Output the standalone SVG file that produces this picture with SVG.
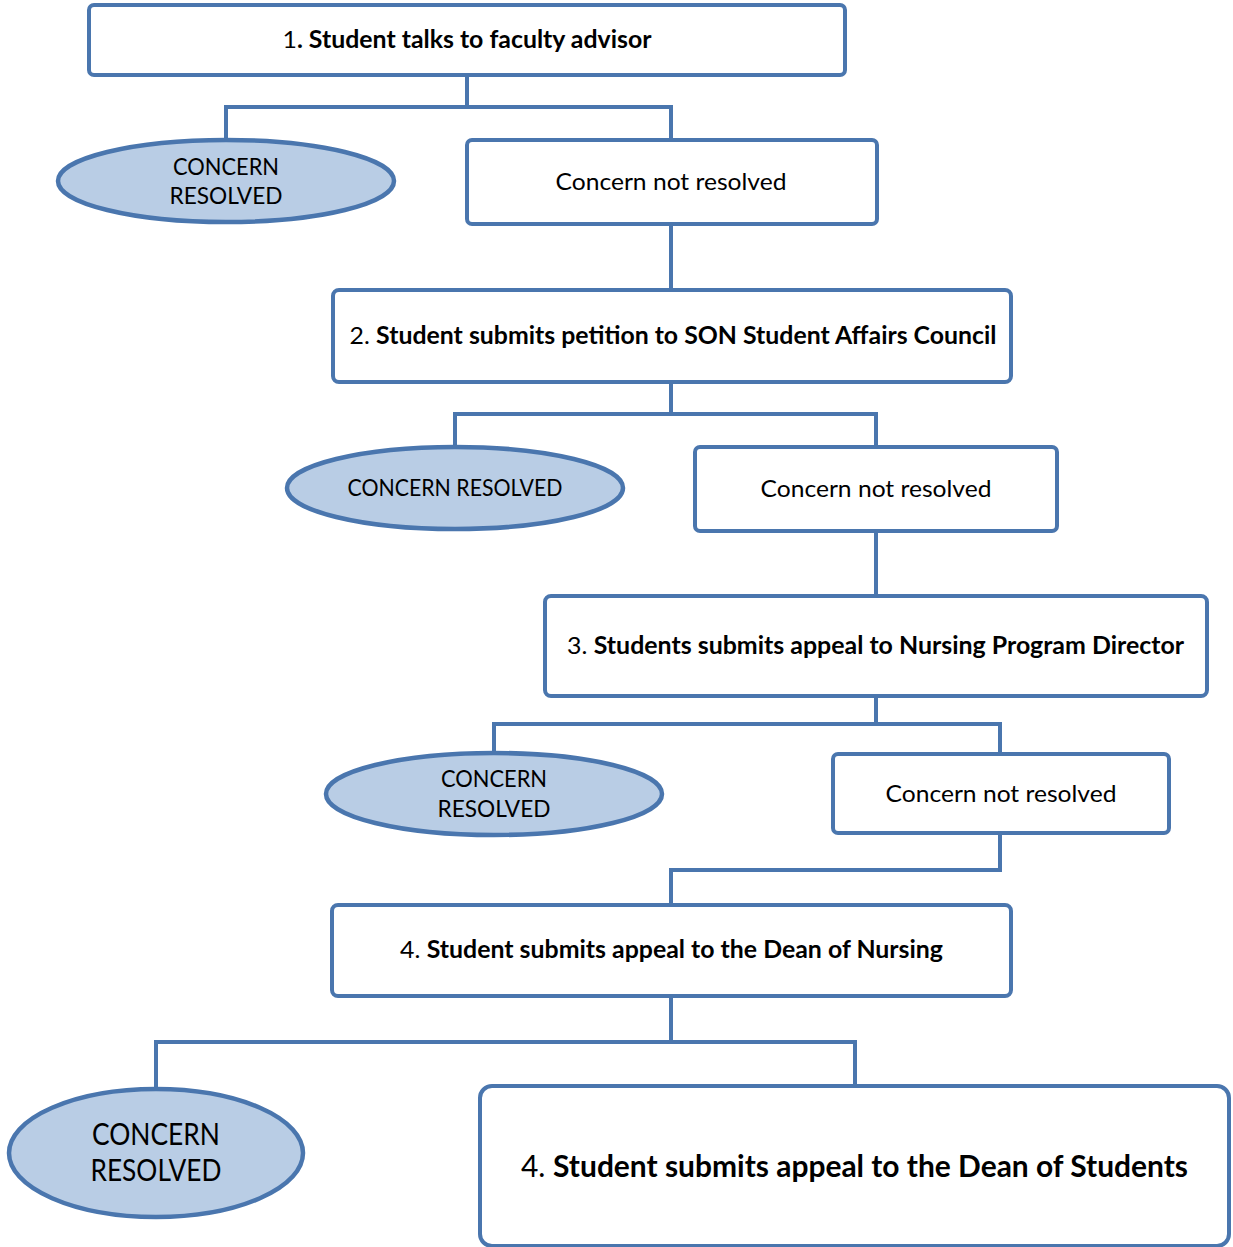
<svg xmlns="http://www.w3.org/2000/svg" width="1233" height="1247" viewBox="0 0 1233 1247">
<style>
.box{fill:#ffffff;stroke:#4a76ae;stroke-width:4}
.ell{fill:#b9cde5;stroke:#4a76ae;stroke-width:4.5}
.con{fill:none;stroke:#4a76ae;stroke-width:4;stroke-linejoin:miter}
text{font-family:Lato,"Open Sans","Liberation Sans",sans-serif;fill:#000;text-anchor:middle}
.t{font-size:24px}
.big{font-size:30px}
.b{font-weight:bold}
</style>
<rect width="1233" height="1247" fill="#ffffff"/>
<g id="connectors">
<path class="con" d="M467 75V107M226 140V107H671V140"/>
<path class="con" d="M671 224V290"/>
<path class="con" d="M671 382V414M455 447V414H876V447"/>
<path class="con" d="M876 531V596"/>
<path class="con" d="M876 696V724M494 752V724H1000V754"/>
<path class="con" d="M1000 833V870H671V905"/>
<path class="con" d="M671 996V1042M156 1088V1042H855V1086"/>
</g>
<g id="n1">
<rect class="box" x="89" y="5" width="756" height="70" rx="5"/>
<text class="t" x="467" y="48" textLength="369" lengthAdjust="spacingAndGlyphs">1<tspan class="b">. Student talks to faculty advisor</tspan></text>
</g>
<g id="r1">
<ellipse class="ell" cx="226" cy="181" rx="168" ry="41"/>
<text class="t" x="226" y="175" textLength="106" lengthAdjust="spacingAndGlyphs">CONCERN</text>
<text class="t" x="226" y="204" textLength="113" lengthAdjust="spacingAndGlyphs">RESOLVED</text>
</g>
<g id="nr1">
<rect class="box" x="467" y="140" width="410" height="84" rx="5"/>
<text class="t" x="671" y="190" textLength="231" lengthAdjust="spacingAndGlyphs">Concern not resolved</text>
</g>
<g id="n2">
<rect class="box" x="333" y="290" width="678" height="92" rx="6"/>
<text class="t" x="673" y="344" textLength="647" lengthAdjust="spacingAndGlyphs">2. <tspan class="b">Student submits petition to SON Student Affairs Council</tspan></text>
</g>
<g id="r2">
<ellipse class="ell" cx="455" cy="488" rx="168" ry="41"/>
<text class="t" x="455" y="496" textLength="215" lengthAdjust="spacingAndGlyphs">CONCERN RESOLVED</text>
</g>
<g id="nr2">
<rect class="box" x="695" y="447" width="362" height="84" rx="5"/>
<text class="t" x="876" y="497" textLength="231" lengthAdjust="spacingAndGlyphs">Concern not resolved</text>
</g>
<g id="n3">
<rect class="box" x="545" y="596" width="662" height="100" rx="6"/>
<text class="t" x="875.5" y="654" textLength="617" lengthAdjust="spacingAndGlyphs">3. <tspan class="b">Students submits appeal to Nursing Program Director</tspan></text>
</g>
<g id="r3">
<ellipse class="ell" cx="494" cy="794" rx="168" ry="41"/>
<text class="t" x="494" y="787" textLength="106" lengthAdjust="spacingAndGlyphs">CONCERN</text>
<text class="t" x="494" y="817" textLength="113" lengthAdjust="spacingAndGlyphs">RESOLVED</text>
</g>
<g id="nr3">
<rect class="box" x="833" y="754" width="336" height="79" rx="5"/>
<text class="t" x="1001" y="802" textLength="231" lengthAdjust="spacingAndGlyphs">Concern not resolved</text>
</g>
<g id="n4">
<rect class="box" x="332" y="905" width="679" height="91" rx="6"/>
<text class="t" x="671.5" y="958" textLength="543" lengthAdjust="spacingAndGlyphs">4. <tspan class="b">Student submits appeal to the Dean of Nursing</tspan></text>
</g>
<g id="r4">
<ellipse class="ell" cx="156" cy="1153" rx="147" ry="64"/>
<text class="big" x="156" y="1145" textLength="128" lengthAdjust="spacingAndGlyphs">CONCERN</text>
<text class="big" x="156" y="1181" textLength="131" lengthAdjust="spacingAndGlyphs">RESOLVED</text>
</g>
<g id="n5">
<rect class="box" x="480" y="1086" width="749" height="160" rx="12"/>
<text class="big" x="854.5" y="1177" textLength="667" lengthAdjust="spacingAndGlyphs">4. <tspan class="b">Student submits appeal to the Dean of Students</tspan></text>
</g>
</svg>
